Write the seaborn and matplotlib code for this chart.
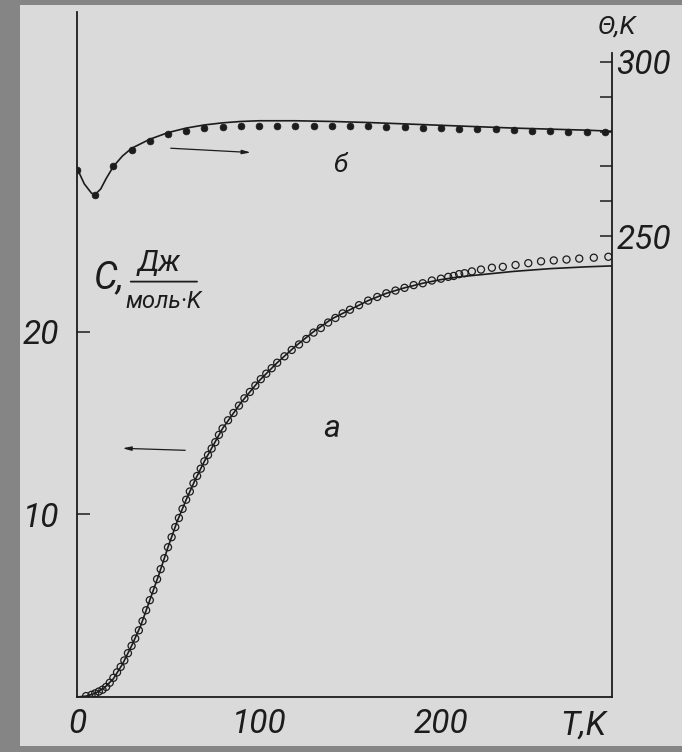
import matplotlib
matplotlib.use("Agg")
import matplotlib.pyplot as plt
from matplotlib.patches import Rectangle
import seaborn as sns
import pandas as pd

# ---- data ----
# curve a: heat capacity C, J/(mol K) vs T, K (left axis)
T_a_pts = [5, 8, 10, 12, 14, 16, 18, 20, 22, 24, 26, 28, 30, 32, 34, 36, 38, 40,
           42, 44, 46, 48, 50, 52, 54, 56, 58, 60, 62, 64, 66, 68, 70, 72, 74, 76,
           78, 80, 83, 86, 89, 92, 95, 98, 101, 104, 107, 110, 114, 118, 122, 126,
           130, 134, 138, 142, 146, 150, 155, 160, 165, 170, 175, 180, 185, 190,
           195, 200, 204, 207, 210, 213, 217, 222, 228, 234, 241, 248, 255, 262,
           269, 276, 284, 292]
C_a_pts = [0.05, 0.12, 0.2, 0.3, 0.4, 0.55, 0.78, 1.05, 1.35, 1.65, 2.0, 2.4, 2.8,
           3.2, 3.65, 4.15, 4.75, 5.3, 5.85, 6.45, 7.0, 7.6, 8.2, 8.75, 9.3, 9.8,
           10.3, 10.8, 11.25, 11.7, 12.1, 12.5, 12.9, 13.25, 13.6, 13.95, 14.35,
           14.7, 15.15, 15.55, 15.95, 16.35, 16.7, 17.05, 17.4, 17.7, 18.0, 18.3,
           18.65, 19.0, 19.3, 19.6, 19.95, 20.2, 20.5, 20.75, 21.0, 21.2, 21.45,
           21.7, 21.9, 22.1, 22.25, 22.4, 22.55, 22.65, 22.8, 22.9, 23.0, 23.05,
           23.15, 23.2, 23.3, 23.4, 23.5, 23.55, 23.65, 23.75, 23.85, 23.9, 23.95,
           24.0, 24.05, 24.1]
T_a_line = [0, 5, 10, 15, 20, 25, 30, 35, 40, 45, 50, 55, 60, 65, 70, 75, 80, 85,
            90, 95, 100, 105, 110, 115, 120, 125, 130, 135, 140, 150, 160, 170,
            180, 190, 200, 210, 220, 240, 260, 280, 294]
C_a_line = [0.0, 0.05, 0.2, 0.5, 1.0, 1.8, 2.8, 3.9, 5.3, 6.7, 8.2, 9.6, 10.8,
            11.9, 12.9, 13.8, 14.7, 15.4, 16.1, 16.7, 17.3, 17.8, 18.3, 18.75,
            19.2, 19.6, 20.0, 20.35, 20.7, 21.2, 21.7, 22.1, 22.4, 22.65, 22.85,
            23.0, 23.1, 23.3, 23.45, 23.55, 23.6]

# curve b: Debye temperature theta, K vs T, K (right axis)
T_b_pts = [0, 10, 20, 30, 40, 50, 60, 70, 80, 90, 100, 110, 120, 130, 140, 150,
           160, 170, 180, 190, 200, 210, 220, 230, 240, 250, 260, 270, 280, 290]
Th_b_pts = [269.1, 261.7, 270.1, 274.8, 277.4, 279.3, 280.3, 281.1, 281.4, 281.6,
            281.7, 281.7, 281.7, 281.6, 281.6, 281.5, 281.5, 281.4, 281.3, 281.1,
            280.9, 280.8, 280.7, 280.6, 280.4, 280.3, 280.2, 280.0, 279.8, 279.8]
T_b_line = [0, 4, 8, 10, 13, 16, 20, 25, 30, 40, 50, 60, 70, 80, 90, 100, 120,
            140, 160, 180, 200, 220, 240, 260, 280, 294]
Th_b_line = [269.5, 265.0, 262.3, 262.0, 263.5, 266.5, 270.0, 273.0, 275.2, 277.8,
             279.7, 281.0, 281.9, 282.5, 282.9, 283.1, 283.1, 282.9, 282.6, 282.2,
             281.8, 281.4, 281.0, 280.7, 280.4, 280.1]

x_ticks = [0, 100, 200]
x_ticklabels = ["0", "100", "200"]
yl_ticks = [10, 20]
yr_ticks = [250, 260, 270, 280, 290, 300]
yr_ticklabels = ["250", "", "", "", "", "300"]

df_a_pts = pd.DataFrame({"T": T_a_pts, "C": C_a_pts})
df_a_line = pd.DataFrame({"T": T_a_line, "C": C_a_line})
df_b_pts = pd.DataFrame({"T": T_b_pts, "th": Th_b_pts})
df_b_line = pd.DataFrame({"T": T_b_line, "th": Th_b_line})

# ---- style ----
sns.set_style("white")
FAM = ["Roboto", "DejaVu Sans"]
plt.rcParams["font.family"] = FAM
INK = "#1c1c1c"
PAPER = "#dadada"

fig = plt.figure(figsize=(6.82, 7.52), dpi=100, facecolor="#858585")
fig.patches.append(Rectangle((0.029, 0.008), 0.971, 0.985, transform=fig.transFigure,
                             facecolor=PAPER, edgecolor="none", zorder=-5))

ax = fig.add_axes([77 / 682, 55 / 752, 535 / 682, 685 / 752])
ax.set_facecolor("none")
ax2 = ax.twinx()
ax2.set_facecolor("none")

# curve a
sns.lineplot(data=df_a_line, x="T", y="C", ax=ax, color=INK, linewidth=1.2,
             sort=False, estimator=None)
sns.scatterplot(data=df_a_pts, x="T", y="C", ax=ax, marker="o", s=26,
                facecolor="none", edgecolor=INK, linewidth=0.9, zorder=3)
# curve b
sns.lineplot(data=df_b_line, x="T", y="th", ax=ax2, color=INK, linewidth=1.2,
             sort=False, estimator=None)
sns.scatterplot(data=df_b_pts, x="T", y="th", ax=ax2, marker="o", s=24,
                color=INK, edgecolor=INK, linewidth=0.5, zorder=3)

ax.set_xlim(0, 294)
ax.set_ylim(0, 37.5)
ax2.set_ylim(117.8, 314.3)

for a in (ax, ax2):
    a.set_xlabel("")
    a.set_ylabel("")
    a.spines["top"].set_visible(False)
    for s in a.spines.values():
        s.set_color(INK)
        s.set_linewidth(1.3)
ax.spines["right"].set_visible(False)
ax2.spines["left"].set_visible(False)
ax2.spines["bottom"].set_visible(False)
ax2.spines["right"].set_bounds(117.8, 302.5)

tick_font = dict(family=FAM, style="italic", size=24)
ax.set_xticks(x_ticks)
ax.set_xticklabels(x_ticklabels, fontdict=tick_font, color=INK)
ax.set_yticks(yl_ticks)
ax.set_yticklabels([str(v) for v in yl_ticks], fontdict=tick_font, color=INK)
ax.tick_params(axis="x", direction="in", length=8, width=1.1, pad=8, color=INK)
ax.tick_params(axis="y", direction="in", length=9, width=1.1, pad=13, color=INK)
ax2.set_yticks(yr_ticks)
ax2.set_yticklabels(yr_ticklabels, fontdict=tick_font, color=INK)
ax2.tick_params(axis="y", direction="in", length=9, width=1.1, pad=3, color=INK)

# axis captions
ax.text(0.946, -0.018, "T,K", transform=ax.transAxes, ha="center", va="top",
        fontsize=24, style="italic", color=INK)
ax2.text(1.01, 1.0 - 15 / 685, "Θ,K", transform=ax2.transAxes, ha="center",
         va="center", fontsize=19, style="italic", color=INK)

# C, J/(mol K) label
ax.text(18, 22.95, "C,", ha="center", va="center", fontsize=27, style="italic",
        color=INK)
ax.text(45, 23.75, "Дж", ha="center", va="center", fontsize=21, style="italic",
        color=INK)
ax.annotate("", xy=(67.5, 22.74), xytext=(28, 22.74),
            arrowprops=dict(arrowstyle="-", color=INK, lw=1.3))
ax.text(47.5, 21.65, "моль·K", ha="center", va="center", fontsize=17,
        style="italic", color=INK)

# curve letters and arrows
ax.text(144.5, 29.1, "б", ha="center", va="center", fontsize=19, style="italic",
        color=INK)
ax.text(140, 14.7, "a", ha="center", va="center", fontsize=23, style="italic",
        color=INK)
ax.annotate("", xy=(97, 29.8), xytext=(50, 30.05),
            arrowprops=dict(arrowstyle="-|>,head_length=0.5,head_width=0.12",
                            color=INK, lw=0.9))
ax.annotate("", xy=(23.5, 13.62), xytext=(61, 13.5),
            arrowprops=dict(arrowstyle="-|>,head_length=0.5,head_width=0.12",
                            color=INK, lw=0.9))

fig.savefig("out.png", dpi=100, facecolor=fig.get_facecolor())
